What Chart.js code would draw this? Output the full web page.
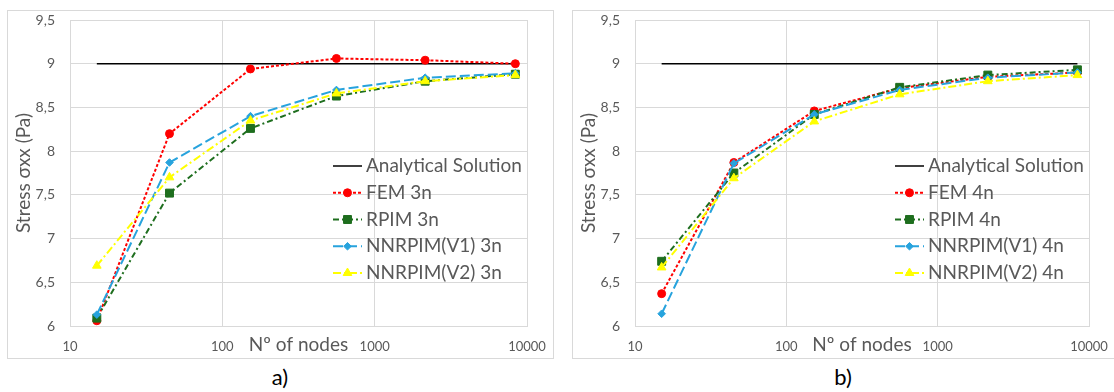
<!DOCTYPE html>
<html><head><meta charset="utf-8">
<script src="https://cdn.jsdelivr.net/npm/chart.js@4.4.1/dist/chart.umd.min.js"></script>
<style>
body{margin:0;width:1114px;height:392px;background:#fff;overflow:hidden;position:relative;font-family:Lato,sans-serif}
.panel{position:absolute;top:10px;height:349px;box-sizing:border-box;border:1px solid #d9d9d9;}
#pa{left:7px;width:547px}
#pb{left:572px;width:544px}
.panel canvas{position:absolute;left:0;top:0}
.cap{position:absolute;top:364px;height:26px;line-height:26px;font-size:22px;color:#000;width:100px;text-align:center;font-family:Lato,sans-serif}
</style></head>
<body>
<div class="panel" id="pa"><canvas id="ca" width="545" height="347"></canvas></div>
<div class="panel" id="pb"><canvas id="cb" width="542" height="347"></canvas></div>
<div class="cap" style="left:230px">a)</div>
<div class="cap" style="left:793px">b)</div>
<script>
// ---- data ----
const nodes = [15, 45, 153, 561, 2145, 8385];
const analyticalX = [15, 8385];
const analyticalY = [9, 9];
const fem3n       = [6.06, 8.20, 8.94, 9.06, 9.04, 9.00];
const rpim3n      = [6.09, 7.52, 8.26, 8.63, 8.80, 8.88];
const nnrpimV1_3n = [6.13, 7.87, 8.40, 8.70, 8.84, 8.89];
const nnrpimV2_3n = [6.69, 7.70, 8.35, 8.66, 8.80, 8.87];
const fem4n       = [6.37, 7.87, 8.46, 8.72, 8.85, 8.90];
const rpim4n      = [6.74, 7.75, 8.42, 8.73, 8.87, 8.93];
const nnrpimV1_4n = [6.14, 7.86, 8.42, 8.70, 8.84, 8.90];
const nnrpimV2_4n = [6.67, 7.69, 8.34, 8.65, 8.80, 8.87];
const xTickValues = [10, 100, 1000, 10000];
const yMin = 6, yMax = 9.5, yStep = 0.5;
const seriesNamesA = ['Analytical Solution', 'FEM 3n', 'RPIM 3n', 'NNRPIM(V1) 3n', 'NNRPIM(V2) 3n'];
const seriesNamesB = ['Analytical Solution', 'FEM 4n', 'RPIM 4n', 'NNRPIM(V1) 4n', 'NNRPIM(V2) 4n'];
const yTitle = 'Stress σxx (Pa)';
const xTitle = 'Nº of nodes';

Chart.defaults.font.family = 'Lato, sans-serif';
const GRAY = '#595959';
const GRID = '#d9d9d9';

const styles = [
  {borderColor:'#000000', borderWidth:1.5, borderDash:[], pointRadius:0, pointStyle:'circle', bg:'#000'},
  {borderColor:'#ff0000', borderWidth:2, borderDash:[3,2], pointRadius:4, pointStyle:'circle', bg:'#ff0000'},
  {borderColor:'#1e6e1e', borderWidth:2, borderDash:[6,3,2,3], pointRadius:5.6, pointStyle:'rect', bg:'#1e6e1e'},
  {borderColor:'#27a3dd', borderWidth:2, borderDash:[10,4], pointRadius:3.8, pointStyle:'rectRot', bg:'#27a3dd'},
  {borderColor:'#ffff00', borderWidth:2, borderDash:[8,3,2,3], pointRadius:5, pointStyle:'triangle', bg:'#ffff00'}
];

function pts(xs, ys){ return xs.map((x,i)=>({x:x, y:ys[i]})); }

function makeDatasets(names, series){
  const all = [pts(analyticalX, analyticalY)].concat(series.map(s=>pts(nodes, s)));
  return all.map((d,i)=>({
    label: names[i], data: d,
    borderColor: styles[i].borderColor, borderWidth: styles[i].borderWidth,
    borderDash: styles[i].borderDash, pointRadius: styles[i].pointRadius,
    pointHoverRadius: styles[i].pointRadius,
    pointStyle: styles[i].pointStyle, pointBackgroundColor: styles[i].bg,
    pointBorderColor: styles[i].bg, pointBorderWidth: 1,
    backgroundColor: styles[i].bg, fill:false, tension:0,
    order: 5 - i
  }));
}

const legendPlugin = {
  id:'inLegend',
  afterDraw(chart){
    const {ctx, chartArea} = chart;
    const x0 = chartArea.right - 194, tx = chartArea.right - 161;
    chart.data.datasets.forEach((ds,i)=>{
      const y = chartArea.top + 146 + i*26.75;
      ctx.save();
      ctx.strokeStyle = ds.borderColor; ctx.lineWidth = ds.borderWidth;
      ctx.setLineDash(ds.borderDash||[]);
      ctx.beginPath(); ctx.moveTo(x0, y); ctx.lineTo(x0+29, y); ctx.stroke();
      ctx.setLineDash([]);
      if (ds.pointRadius > 0){
        ctx.fillStyle = ds.pointBackgroundColor; ctx.strokeStyle = ds.pointBorderColor;
        ctx.lineWidth = 1;
        Chart.helpers.drawPoint(ctx, {pointStyle: ds.pointStyle, radius: ds.pointRadius, borderWidth:1, rotation:0}, x0+14.5, y);
      }
      ctx.fillStyle = GRAY; ctx.font = '19px Lato, sans-serif';
      ctx.textBaseline = 'middle'; ctx.textAlign = 'left';
      ctx.fillText(ds.label, tx, y);
      ctx.restore();
    });
  }
};

function makeChart(id, names, series){
  return new Chart(document.getElementById(id), {
    type:'line',
    data:{ datasets: makeDatasets(names, series) },
    plugins:[legendPlugin],
    options:{
      responsive:false, animation:false,
      layout:{ padding:{left:0, right:26, top:9, bottom:0} },
      plugins:{ legend:{display:false}, tooltip:{enabled:false} },
      scales:{
        x:{
          type:'logarithmic', min:10, max:10000,
          afterBuildTicks: s => { s.ticks = xTickValues.map(v=>({value:v})); },
          afterFit: s => { s.height = 32; s.paddingLeft = 0; s.paddingRight = 0; },
          ticks:{ color:GRAY, font:{size:13}, padding:13, maxRotation:0, minRotation:0, autoSkip:false, align:'center',
                  callback: v => String(v) },
          grid:{ color:GRID, lineWidth:1, drawTicks:false },
          border:{ display:true, color:GRID },
          title:{ display:true, text:xTitle, color:GRAY, font:{size:19}, padding:{top:0, bottom:2} }
        },
        y:{
          type:'linear', min:yMin, max:yMax,
          afterFit: s => { s.width = 62; s.paddingTop = 0; s.paddingBottom = 0; },
          ticks:{ stepSize:yStep, color:GRAY, font:{size:14}, padding:15,
                  callback: v => String(v).replace('.', ',') },
          grid:{ color:GRID, lineWidth:1, drawTicks:false },
          border:{ display:true, color:GRID },
          title:{ display:true, text:yTitle, color:GRAY, font:{size:19}, padding:{top:4, bottom:0} }
        }
      }
    }
  });
}

makeChart('ca', seriesNamesA, [fem3n, rpim3n, nnrpimV1_3n, nnrpimV2_3n]);
makeChart('cb', seriesNamesB, [fem4n, rpim4n, nnrpimV1_4n, nnrpimV2_4n]);
</script>
</body></html>
